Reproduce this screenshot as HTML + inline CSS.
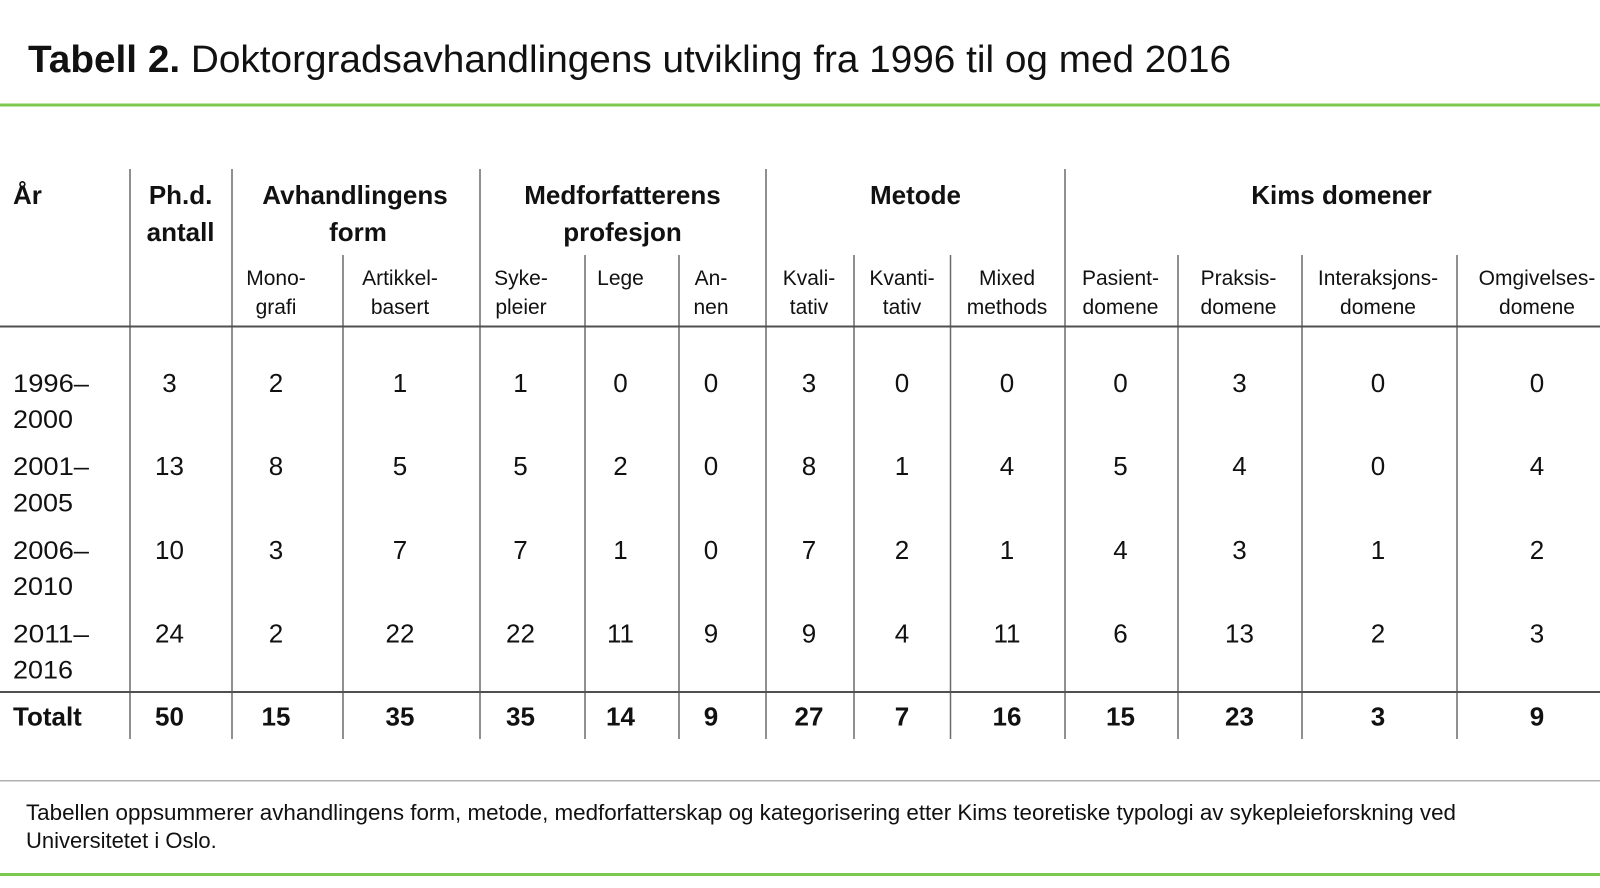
<!DOCTYPE html>
<html>
<head>
<meta charset="utf-8">
<style>
  html, body { margin: 0; padding: 0; background: #ffffff; }
  svg { display: block; }
  text { font-family: "Liberation Sans", Arial, sans-serif; fill: #111111; }
  .h { font-weight: bold; font-size: 26px; text-anchor: middle; }
  .s { font-size: 21px; text-anchor: middle; }
  .d { font-size: 26px; text-anchor: middle; }
  .t { font-size: 26px; font-weight: bold; text-anchor: middle; }
  .y { font-size: 25px; }
</style>
</head>
<body>
<svg width="1600" height="888" viewBox="0 0 1600 888" xmlns="http://www.w3.org/2000/svg">
  <rect x="0" y="0" width="1600" height="888" fill="#ffffff"/>

  <!-- Title -->
  <text x="28" y="72" font-size="38" textLength="1203" lengthAdjust="spacingAndGlyphs"><tspan font-weight="bold">Tabell 2.</tspan> Doktorgradsavhandlingens utvikling fra 1996 til og med 2016</text>

  <!-- top green line -->
  <rect x="0" y="103.5" width="1600" height="3" fill="#7bc94e"/>

  <!-- Table lines -->
  <g stroke="#6b6b6b" stroke-width="1.5">
    <line x1="130" y1="169" x2="130" y2="739"/>
    <line x1="232" y1="169" x2="232" y2="739"/>
    <line x1="480" y1="169" x2="480" y2="739"/>
    <line x1="766" y1="169" x2="766" y2="739"/>
    <line x1="1065" y1="169" x2="1065" y2="739"/>

    <line x1="343" y1="255" x2="343" y2="739"/>
    <line x1="585" y1="255" x2="585" y2="739"/>
    <line x1="679" y1="255" x2="679" y2="739"/>
    <line x1="854" y1="255" x2="854" y2="739"/>
    <line x1="950.5" y1="255" x2="950.5" y2="739"/>
    <line x1="1178" y1="255" x2="1178" y2="739"/>
    <line x1="1302" y1="255" x2="1302" y2="739"/>
    <line x1="1457" y1="255" x2="1457" y2="739"/>
  </g>
  <g stroke="#505050" stroke-width="2">
    <line x1="0" y1="326.5" x2="1600" y2="326.5"/>
    <line x1="0" y1="692" x2="1600" y2="692"/>
  </g>

  <!-- Group headers -->
  <text x="13" y="204" font-size="26" font-weight="bold">År</text>
  <text class="h" x="180.6" y="204">Ph.d.</text>
  <text class="h" x="180.6" y="241">antall</text>
  <text class="h" x="355" y="204">Avhandlingens</text>
  <text class="h" x="358" y="241">form</text>
  <text class="h" x="622.5" y="204">Medforfatterens</text>
  <text class="h" x="622.5" y="241">profesjon</text>
  <text class="h" x="915.5" y="204">Metode</text>
  <text class="h" x="1341.5" y="204">Kims domener</text>

  <!-- Sub headers -->
  <text class="s" x="276" y="285">Mono-</text>
  <text class="s" x="276" y="314">grafi</text>
  <text class="s" x="400" y="285">Artikkel-</text>
  <text class="s" x="400" y="314">basert</text>
  <text class="s" x="521" y="285">Syke-</text>
  <text class="s" x="521" y="314">pleier</text>
  <text class="s" x="620.5" y="285">Lege</text>
  <text class="s" x="711" y="285">An-</text>
  <text class="s" x="711" y="314">nen</text>
  <text class="s" x="809" y="285">Kvali-</text>
  <text class="s" x="809" y="314">tativ</text>
  <text class="s" x="902" y="285">Kvanti-</text>
  <text class="s" x="902" y="314">tativ</text>
  <text class="s" x="1007" y="285">Mixed</text>
  <text class="s" x="1007" y="314">methods</text>
  <text class="s" x="1120.5" y="285">Pasient-</text>
  <text class="s" x="1120.5" y="314">domene</text>
  <text class="s" x="1238.5" y="285">Praksis-</text>
  <text class="s" x="1238.5" y="314">domene</text>
  <text class="s" x="1378" y="285">Interaksjons-</text>
  <text class="s" x="1378" y="314">domene</text>
  <text class="s" x="1537" y="285">Omgivelses-</text>
  <text class="s" x="1537" y="314">domene</text>

  <!-- Year labels -->
  <text class="y" x="13" y="392" textLength="76" lengthAdjust="spacingAndGlyphs">1996–</text>
  <text class="y" x="13" y="428" textLength="60" lengthAdjust="spacingAndGlyphs">2000</text>
  <text class="y" x="13" y="475" textLength="76" lengthAdjust="spacingAndGlyphs">2001–</text>
  <text class="y" x="13" y="511.5" textLength="60" lengthAdjust="spacingAndGlyphs">2005</text>
  <text class="y" x="13" y="559" textLength="76" lengthAdjust="spacingAndGlyphs">2006–</text>
  <text class="y" x="13" y="595" textLength="60" lengthAdjust="spacingAndGlyphs">2010</text>
  <text class="y" x="13" y="642.3" textLength="76" lengthAdjust="spacingAndGlyphs">2011–</text>
  <text class="y" x="13" y="678.3" textLength="60" lengthAdjust="spacingAndGlyphs">2016</text>
  <text x="13" y="725.7" font-size="26" font-weight="bold">Totalt</text>

  <!-- Row 1 -->
  <g>
    <text class="d" x="169.5" y="392">3</text>
    <text class="d" x="276" y="392">2</text>
    <text class="d" x="400" y="392">1</text>
    <text class="d" x="520.5" y="392">1</text>
    <text class="d" x="620.5" y="392">0</text>
    <text class="d" x="711" y="392">0</text>
    <text class="d" x="809" y="392">3</text>
    <text class="d" x="902" y="392">0</text>
    <text class="d" x="1007" y="392">0</text>
    <text class="d" x="1120.5" y="392">0</text>
    <text class="d" x="1239.5" y="392">3</text>
    <text class="d" x="1378" y="392">0</text>
    <text class="d" x="1537" y="392">0</text>
  </g>
  <!-- Row 2 -->
  <g>
    <text class="d" x="169.5" y="475">13</text>
    <text class="d" x="276" y="475">8</text>
    <text class="d" x="400" y="475">5</text>
    <text class="d" x="520.5" y="475">5</text>
    <text class="d" x="620.5" y="475">2</text>
    <text class="d" x="711" y="475">0</text>
    <text class="d" x="809" y="475">8</text>
    <text class="d" x="902" y="475">1</text>
    <text class="d" x="1007" y="475">4</text>
    <text class="d" x="1120.5" y="475">5</text>
    <text class="d" x="1239.5" y="475">4</text>
    <text class="d" x="1378" y="475">0</text>
    <text class="d" x="1537" y="475">4</text>
  </g>
  <!-- Row 3 -->
  <g>
    <text class="d" x="169.5" y="559">10</text>
    <text class="d" x="276" y="559">3</text>
    <text class="d" x="400" y="559">7</text>
    <text class="d" x="520.5" y="559">7</text>
    <text class="d" x="620.5" y="559">1</text>
    <text class="d" x="711" y="559">0</text>
    <text class="d" x="809" y="559">7</text>
    <text class="d" x="902" y="559">2</text>
    <text class="d" x="1007" y="559">1</text>
    <text class="d" x="1120.5" y="559">4</text>
    <text class="d" x="1239.5" y="559">3</text>
    <text class="d" x="1378" y="559">1</text>
    <text class="d" x="1537" y="559">2</text>
  </g>
  <!-- Row 4 -->
  <g>
    <text class="d" x="169.5" y="642.3">24</text>
    <text class="d" x="276" y="642.3">2</text>
    <text class="d" x="400" y="642.3">22</text>
    <text class="d" x="520.5" y="642.3">22</text>
    <text class="d" x="620.5" y="642.3">11</text>
    <text class="d" x="711" y="642.3">9</text>
    <text class="d" x="809" y="642.3">9</text>
    <text class="d" x="902" y="642.3">4</text>
    <text class="d" x="1007" y="642.3">11</text>
    <text class="d" x="1120.5" y="642.3">6</text>
    <text class="d" x="1239.5" y="642.3">13</text>
    <text class="d" x="1378" y="642.3">2</text>
    <text class="d" x="1537" y="642.3">3</text>
  </g>
  <!-- Totals -->
  <g>
    <text class="t" x="169.5" y="725.7">50</text>
    <text class="t" x="276" y="725.7">15</text>
    <text class="t" x="400" y="725.7">35</text>
    <text class="t" x="520.5" y="725.7">35</text>
    <text class="t" x="620.5" y="725.7">14</text>
    <text class="t" x="711" y="725.7">9</text>
    <text class="t" x="809" y="725.7">27</text>
    <text class="t" x="902" y="725.7">7</text>
    <text class="t" x="1007" y="725.7">16</text>
    <text class="t" x="1120.5" y="725.7">15</text>
    <text class="t" x="1239.5" y="725.7">23</text>
    <text class="t" x="1378" y="725.7">3</text>
    <text class="t" x="1537" y="725.7">9</text>
  </g>

  <!-- gray separator -->
  <rect x="0" y="780" width="1600" height="1.5" fill="#b0b0b0"/>

  <!-- Footnote -->
  <text x="26" y="820" font-size="22" textLength="1430" lengthAdjust="spacingAndGlyphs">Tabellen oppsummerer avhandlingens form, metode, medforfatterskap og kategorisering etter Kims teoretiske typologi av sykepleieforskning ved</text>
  <text x="26" y="848" font-size="22">Universitetet i Oslo.</text>

  <!-- bottom green line -->
  <rect x="0" y="873" width="1600" height="3" fill="#7bc94e"/>
</svg>
</body>
</html>
